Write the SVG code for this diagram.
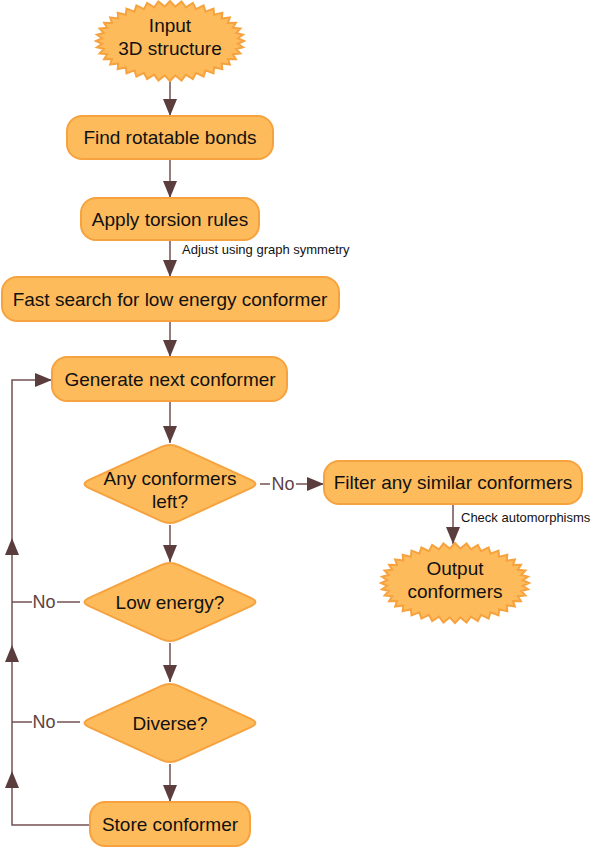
<svg xmlns="http://www.w3.org/2000/svg" xmlns:xlink="http://www.w3.org/1999/xlink" width="600" height="848" viewBox="0 0 600 848">
<style>
.box{fill:#fdbb5c;stroke:#f6a23e;stroke-width:2}
.t{font-family:"Liberation Sans",Arial,sans-serif;font-size:19px;fill:#111;text-anchor:middle}
.s{font-family:"Liberation Sans",Arial,sans-serif;font-size:13px;fill:#111}
.no{font-family:"Liberation Sans",Arial,sans-serif;font-size:18px;fill:#5d4242;text-anchor:middle}
.c{fill:none;stroke:#735050;stroke-width:1.5}
.ca{fill:none;stroke:#735050;stroke-width:1.5;marker-end:url(#ah)}
</style>
<defs>
<marker id="ah" viewBox="0 0 17 14" refX="17" refY="7" markerWidth="17" markerHeight="14" markerUnits="userSpaceOnUse" orient="auto">
<path d="M0,0 L17,7 L0,14 Z" fill="#5b3d3d"/>
</marker>
<polygon id="star" points="74,0 67.79,2.71 73.09,6.26 66.12,8.05 70.38,12.36 62.82,13.2 65.93,18.16 57.98,18.03 59.87,23.51 51.71,22.41 52.33,28.28 44.16,26.23 43.5,32.36 35.53,29.42 33.6,35.64 26.02,31.87 22.87,38.04 15.87,33.55 11.58,39.51 5.34,34.39 0,40 -5.34,34.39 -11.58,39.51 -15.87,33.55 -22.87,38.04 -26.02,31.87 -33.6,35.64 -35.53,29.42 -43.5,32.36 -44.16,26.23 -52.33,28.28 -51.71,22.41 -59.87,23.51 -57.98,18.03 -65.93,18.16 -62.82,13.2 -70.38,12.36 -66.12,8.05 -73.09,6.26 -67.79,2.71 -74,0 -67.79,-2.71 -73.09,-6.26 -66.12,-8.05 -70.38,-12.36 -62.82,-13.2 -65.93,-18.16 -57.98,-18.03 -59.87,-23.51 -51.71,-22.41 -52.33,-28.28 -44.16,-26.23 -43.5,-32.36 -35.53,-29.42 -33.6,-35.64 -26.02,-31.87 -22.87,-38.04 -15.87,-33.55 -11.58,-39.51 -5.34,-34.39 0,-40 5.34,-34.39 11.58,-39.51 15.87,-33.55 22.87,-38.04 26.02,-31.87 33.6,-35.64 35.53,-29.42 43.5,-32.36 44.16,-26.23 52.33,-28.28 51.71,-22.41 59.87,-23.51 57.98,-18.03 65.93,-18.16 62.82,-13.2 70.38,-12.36 66.12,-8.05 73.09,-6.26 67.79,-2.71"/>
<path id="dia" d="M-80.9,-4.15 L-9.1,-36.85 Q0,-41 9.1,-36.85 L80.9,-4.15 Q90,0 80.9,4.15 L9.1,36.85 Q0,41 -9.1,36.85 L-80.9,4.15 Q-90,0 -80.9,-4.15 Z"/>
</defs>
<g id="connectors">
<path class="ca" d="M170,80 V116"/>
<path class="ca" d="M170,159 V198"/>
<path class="ca" d="M170,240 V277"/>
<path class="ca" d="M170,321 V357"/>
<path class="ca" d="M170,401 V443"/>
<path class="ca" d="M170,525 V562"/>
<path class="ca" d="M170,643 V682"/>
<path class="ca" d="M170,764 V802"/>
<path class="c" d="M260,484 H270"/>
<path class="ca" d="M296,484 H324"/>
<path class="ca" d="M453,504 V544"/>
<path class="ca" d="M90,825 H12 V771"/>
<path class="ca" d="M12,771 V645"/>
<path class="ca" d="M12,645 V538"/>
<path class="ca" d="M12,538 V380 H52"/>
<path class="c" d="M80,602 H57"/>
<path class="c" d="M32,602 H12"/>
<path class="c" d="M80,722 H57"/>
<path class="c" d="M32,722 H12"/>
<text class="no" x="283" y="490">No</text>
<text class="no" x="44" y="608">No</text>
<text class="no" x="44" y="728">No</text>
<text class="s" x="182" y="254">Adjust using graph symmetry</text>
<text class="s" x="461" y="522">Check automorphisms</text>
</g>
<g id="input">
<use xlink:href="#star" href="#star" class="box" transform="translate(170,41)"/>
<text class="t" x="170" y="32">Input</text>
<text class="t" x="170" y="55">3D structure</text>
</g>
<g id="find">
<rect class="box" x="67" y="116" width="206" height="43" rx="15"/>
<text class="t" x="170" y="144">Find rotatable bonds</text>
</g>
<g id="apply">
<rect class="box" x="81" y="198" width="178" height="42" rx="15"/>
<text class="t" x="170" y="226">Apply torsion rules</text>
</g>
<g id="fast">
<rect class="box" x="2" y="277" width="337" height="44" rx="15"/>
<text class="t" x="170" y="306">Fast search for low energy conformer</text>
</g>
<g id="generate">
<rect class="box" x="52" y="357" width="235" height="44" rx="15"/>
<text class="t" x="170" y="386">Generate next conformer</text>
</g>
<g id="anyleft">
<use xlink:href="#dia" href="#dia" class="box" transform="translate(170,484)"/>
<text class="t" x="170" y="485">Any conformers</text>
<text class="t" x="170" y="508">left?</text>
</g>
<g id="filter">
<rect class="box" x="324" y="461" width="258" height="43" rx="15"/>
<text class="t" x="453" y="489">Filter any similar conformers</text>
</g>
<g id="output">
<use xlink:href="#star" href="#star" class="box" transform="translate(455,583)"/>
<text class="t" x="455" y="575">Output</text>
<text class="t" x="455" y="598">conformers</text>
</g>
<g id="lowenergy">
<use xlink:href="#dia" href="#dia" class="box" transform="translate(170,602)"/>
<text class="t" x="170" y="609">Low energy?</text>
</g>
<g id="diverse">
<use xlink:href="#dia" href="#dia" class="box" transform="translate(170,723)"/>
<text class="t" x="170" y="730">Diverse?</text>
</g>
<g id="store">
<rect class="box" x="90" y="802" width="160" height="44" rx="15"/>
<text class="t" x="170" y="831">Store conformer</text>
</g>
</svg>
